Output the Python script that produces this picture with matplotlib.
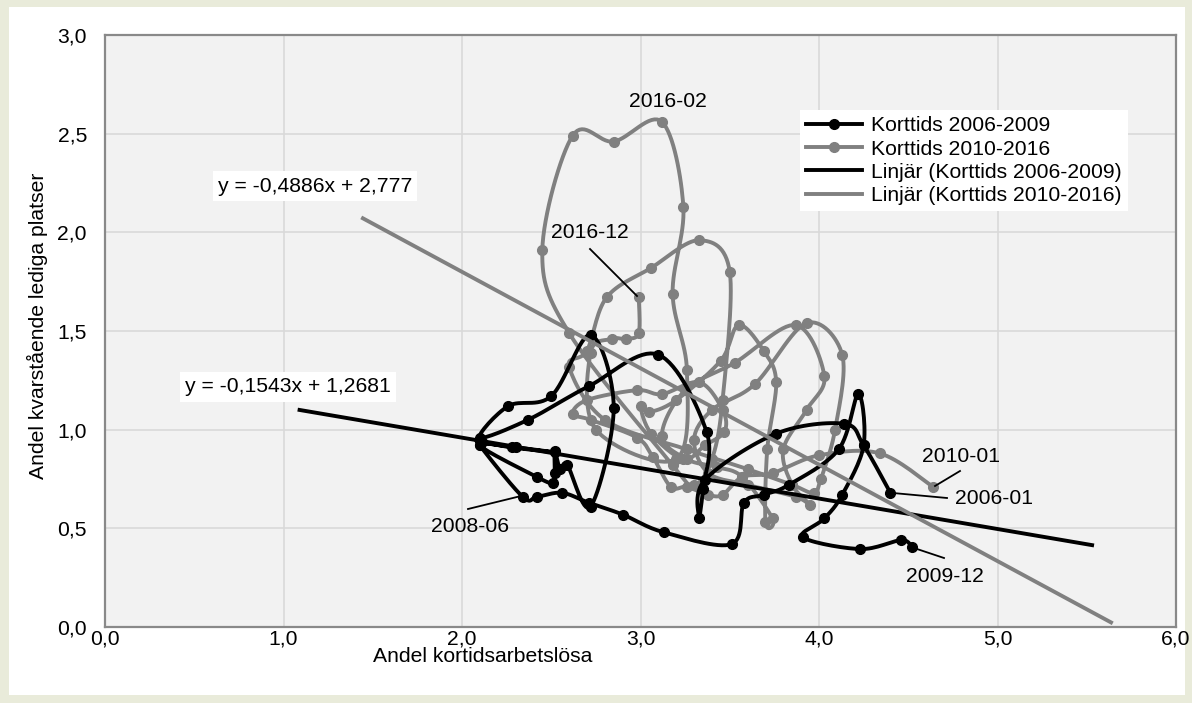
import numpy as np
import matplotlib
matplotlib.use('Agg')
import matplotlib.pyplot as plt
from matplotlib.patches import Rectangle
from matplotlib.lines import Line2D

plt.rcParams['font.family'] = ['Liberation Sans', 'DejaVu Sans']

# ---- data: Korttids 2006-2009 (monthly, Jan 2006 .. Dec 2009)
x_0609 = [4.40, 4.25, 4.14, 3.76, 3.36, 3.33, 3.35, 3.37, 3.10, 2.71, 2.37, 2.10,
          2.26, 2.50, 2.72, 2.85, 2.72, 2.59, 2.55, 2.52, 2.52, 2.51, 2.42, 2.10,
          2.30, 2.52, 2.28, 2.11, 2.10, 2.34, 2.42, 2.56, 2.71, 2.90, 3.13, 3.51,
          3.58, 3.69, 3.83, 4.11, 4.22, 4.25, 4.13, 4.03, 3.91, 4.23, 4.46, 4.52]
y_0609 = [0.68, 0.92, 1.03, 0.98, 0.745, 0.55, 0.70, 0.99, 1.38, 1.22, 1.05, 0.96,
          1.12, 1.17, 1.48, 1.11, 0.61, 0.82, 0.80, 0.89, 0.78, 0.73, 0.76, 0.92,
          0.91, 0.885, 0.91, 0.935, 0.92, 0.66, 0.66, 0.68, 0.63, 0.57, 0.48, 0.42,
          0.63, 0.67, 0.72, 0.90, 1.18, 0.92, 0.67, 0.55, 0.455, 0.395, 0.44, 0.405]

# ---- data: Korttids 2010-2016 (monthly, Jan 2010 .. Dec 2016)
x_1016 = [4.64, 4.34, 4.00, 3.74, 3.57, 3.46, 3.38, 3.26, 3.17, 3.07, 2.98, 2.72,
          2.62, 2.70, 2.98, 3.12, 3.33, 3.46, 3.47, 3.36, 3.24, 3.06, 3.00, 3.05,
          3.20, 3.45, 3.55, 3.69, 3.76, 3.71, 3.70, 3.74, 3.57, 3.43, 3.26, 3.12,
          3.25, 3.53, 3.87, 4.03, 3.93, 3.80, 3.85, 3.95, 3.87, 3.60, 3.38, 3.30,
          3.40, 3.64, 3.93, 4.13, 4.09, 4.01, 3.97, 3.85, 3.60, 3.26, 2.80, 2.60,
          2.70, 2.81, 3.06, 3.33, 3.50, 3.46, 3.40, 3.30, 3.18, 2.60, 2.45, 2.62,
          2.85, 3.12, 3.24, 3.18, 3.26, 3.20, 2.75, 2.72, 2.84, 2.92, 2.99, 2.99]
y_1016 = [0.71, 0.88, 0.87, 0.78, 0.76, 0.67, 0.67, 0.71, 0.71, 0.86, 0.96, 1.05,
          1.08, 1.15, 1.20, 1.18, 1.24, 1.10, 0.99, 0.92, 0.85, 0.98, 1.12, 1.09,
          1.15, 1.35, 1.53, 1.40, 1.24, 0.90, 0.53, 0.55, 0.76, 0.81, 0.85, 0.97,
          1.20, 1.34, 1.53, 1.27, 1.10, 0.90, 0.72, 0.62, 0.66, 0.72, 0.78, 0.95,
          1.10, 1.23, 1.54, 1.38, 1.00, 0.75, 0.68, 0.72, 0.80, 0.90, 1.05, 1.32,
          1.40, 1.67, 1.82, 1.96, 1.80, 1.15, 0.85, 0.72, 0.82, 1.49, 1.91, 2.49,
          2.46, 2.56, 2.13, 1.69, 1.30, 0.85, 1.00, 1.39, 1.46, 1.46, 1.49, 1.67]

# linear trends (as printed on the chart)
trend_0609 = (-0.1543, 1.2681)
trend_1016 = (-0.4886, 2.777)
trend_x_0609 = [1.09, 5.53]
trend_x_1016 = [1.445, 5.636]

x_ticks = [0, 1, 2, 3, 4, 5, 6]
y_ticks = [0, 0.5, 1.0, 1.5, 2.0, 2.5, 3.0]

W, H = 1192, 703
L, R, T, B = 105, 1176, 35, 627
FS = 15.2
LW = 2.8
MS = 7


def px2data(px, py):
    return ((px - L) / (R - L) * 6.0, (B - py) / (B - T) * 3.0)


def smooth(xs, ys, n=16):
    sc = np.array([(R - L) / 6.0, (B - T) / 3.0])
    P = np.column_stack([xs, ys]).astype(float) * sc
    out = [P[0]]
    t = np.linspace(0, 1, n + 1)[1:, None]
    for i in range(len(P) - 1):
        p0 = P[i - 1] if i > 0 else P[i]
        p1, p2 = P[i], P[i + 1]
        p3 = P[i + 2] if i + 2 < len(P) else P[i + 1]
        c1 = p1 + (p2 - p0) / 6.0
        c2 = p2 - (p3 - p1) / 6.0
        seg = (1 - t) ** 3 * p1 + 3 * (1 - t) ** 2 * t * c1 + 3 * (1 - t) * t ** 2 * c2 + t ** 3 * p2
        out.extend(seg)
    out = np.array(out) / sc
    return out[:, 0], out[:, 1]


fig = plt.figure(figsize=(W / 100, H / 100), dpi=100, facecolor='#E9EBDA')
fig.patches.append(Rectangle((9 / W, 1 - 695 / H), (1185 - 9) / W, (695 - 7) / H,
                             transform=fig.transFigure, facecolor='white', edgecolor='none', zorder=-5))

ax = fig.add_axes([L / W, 1 - B / H, (R - L) / W, (B - T) / H])
ax.set_zorder(2)
ax.set_facecolor('#F2F2F2')
ax.set_xlim(0, 6)
ax.set_ylim(0, 3)
ax.set_xticks(x_ticks)
ax.set_yticks(y_ticks)
ax.set_xticklabels([f"{v:.1f}".replace('.', ',') for v in x_ticks], fontsize=FS)
ax.set_yticklabels([f"{v:.1f}".replace('.', ',') for v in y_ticks], fontsize=FS)
ax.tick_params(length=0)
ax.tick_params(axis='x', pad=2)
ax.tick_params(axis='y', pad=13)
ax.grid(True, color='#D9D9D9', lw=1.2)
ax.set_axisbelow(True)
for s in ax.spines.values():
    s.set_color('#898989')
    s.set_linewidth(1.6)

# axis titles (placed as in the reference: x title sits left of centre)
fig.text(483 / W, 1 - 657 / H, 'Andel kortidsarbetslösa', fontsize=FS, ha='center', va='center')
fig.text(37 / W, 1 - 326 / H, 'Andel kvarstående lediga platser', fontsize=FS,
         ha='center', va='center', rotation=90)

BLACK = '#000000'
GREY = '#808080'

# series
sx, sy = smooth(x_1016, y_1016)
ax.plot(sx, sy, color=GREY, lw=LW, zorder=3, solid_capstyle='round', solid_joinstyle='round')
ax.plot(x_1016, y_1016, 'o', color=GREY, ms=MS, zorder=3)
sx, sy = smooth(x_0609, y_0609)
ax.plot(sx, sy, color=BLACK, lw=LW, zorder=4, solid_capstyle='round', solid_joinstyle='round')
ax.plot(x_0609, y_0609, 'o', color=BLACK, ms=MS, zorder=4)

# trend lines
tx = np.array(trend_x_0609)
ax.plot(tx, trend_0609[0] * tx + trend_0609[1], color=BLACK, lw=LW, zorder=5)
tx = np.array(trend_x_1016)
ax.plot(tx, trend_1016[0] * tx + trend_1016[1], color=GREY, lw=LW, zorder=5)

# equation labels
bb = dict(boxstyle='square,pad=0.25', facecolor='white', edgecolor='none')
ax.text(*px2data(315, 186), 'y = -0,4886x + 2,777', fontsize=FS, ha='center', va='center', bbox=bb, zorder=6)
ax.text(*px2data(288, 387), 'y = -0,1543x + 1,2681', fontsize=FS, ha='center', va='center', bbox=bb, zorder=6)


# date annotations
def annot(txt, tpos, p0=None, p1=None):
    ax.text(*px2data(*tpos), txt, fontsize=FS, ha='center', va='center', zorder=7)
    if p0 is not None:
        a, b = px2data(*p0)
        c, d = px2data(*p1)
        ax.plot([a, c], [b, d], color='black', lw=1.3, zorder=7)


annot('2016-02', (668, 101))
annot('2016-12', (590, 232), (590, 249), (637, 296))
annot('2008-06', (470, 527), (468, 509), (521, 496))
annot('2010-01', (961, 457), (960, 471), (935, 486))
annot('2006-01', (994, 498), (947, 498), (893, 493))
annot('2009-12', (945, 577), (944, 558), (914, 548))

# legend
handles = [
    Line2D([], [], color=BLACK, lw=LW, marker='o', ms=MS),
    Line2D([], [], color=GREY, lw=LW, marker='o', ms=MS),
    Line2D([], [], color=BLACK, lw=LW),
    Line2D([], [], color=GREY, lw=LW),
]
labels = ['Korttids 2006-2009', 'Korttids 2010-2016',
          'Linjär (Korttids 2006-2009)', 'Linjär (Korttids 2010-2016)']
leg = fig.legend(handles, labels, loc='upper left', bbox_to_anchor=(800 / W, 1 - 110 / H),
                 fontsize=FS, frameon=True, fancybox=False, handlelength=2.65,
                 handletextpad=0.42, labelspacing=0.2, borderpad=0.3, borderaxespad=0)
leg.get_frame().set_facecolor('white')
leg.get_frame().set_edgecolor('none')
leg.get_frame().set_alpha(1)
leg.set_zorder(10)

fig.savefig('out.png', dpi=100, facecolor=fig.get_facecolor())
